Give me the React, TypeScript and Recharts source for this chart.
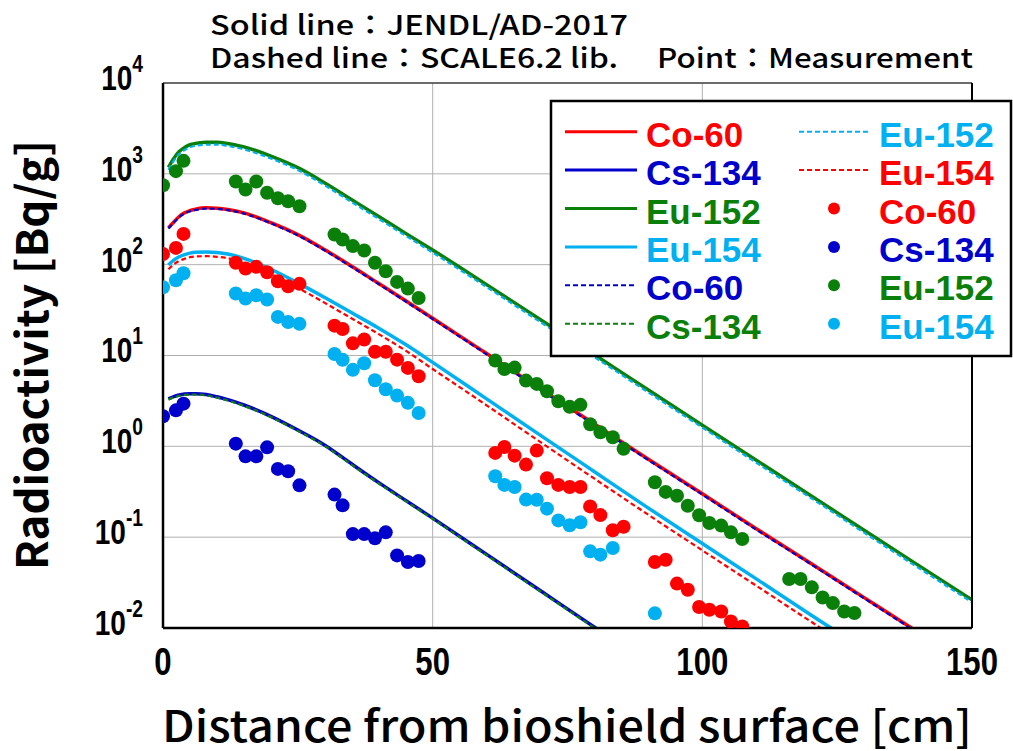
import React from "react";
import {
  ComposedChart,
  Line,
  Scatter,
  XAxis,
  YAxis,
  CartesianGrid,
} from "recharts";

// calculated curves (distance in cm)
const curveX = [1, 2, 3, 4, 5, 6, 8, 10, 12, 15, 20, 25, 30, 35, 40, 45, 50, 60, 70, 80, 90, 100, 110, 120, 130, 140, 150];

const jendlCo60 = [254, 295, 339, 372, 394, 407, 422, 418, 405, 372, 290, 214, 146, 96, 62, 40, 25.7, 10.5, 4.27, 1.76, 0.72, 0.3, 0.124, 0.052, 0.0216, 0.009, 0.0038];
const jendlCs134 = [3.33, 3.53, 3.67, 3.76, 3.8, 3.8, 3.72, 3.51, 3.27, 2.85, 2.14, 1.51, 1.03, 0.638, 0.398, 0.254, 0.162, 0.0646, 0.0257, 0.0102, 0.0041, 0.0016, 0.00065, 0.00026, 0.0001, 0.00004, 0.000016];
const jendlEu152 = [1175, 1480, 1760, 1950, 2090, 2160, 2220, 2230, 2160, 1980, 1570, 1170, 794, 519, 339, 221, 145, 60.3, 24.8, 10.2, 4.17, 1.71, 0.703, 0.29, 0.119, 0.0492, 0.0204];
const jendlEu154 = [99, 112, 122, 129, 134, 137, 138, 136, 131, 117.5, 89, 63, 43.4, 29.5, 20, 13.2, 8.4, 3.33, 1.32, 0.525, 0.209, 0.085, 0.0347, 0.0141, 0.0058, 0.0023, 0.00095];

const scaleCo60 = [250, 290, 333, 366, 388, 400, 415, 411, 398, 365, 285, 210, 143, 94, 61, 39.3, 25.2, 10.3, 4.18, 1.72, 0.705, 0.294, 0.121, 0.051, 0.0212, 0.0088, 0.0037];
const scaleCs134 = [3.27, 3.46, 3.6, 3.68, 3.72, 3.72, 3.65, 3.44, 3.2, 2.79, 2.1, 1.48, 1.01, 0.625, 0.39, 0.249, 0.159, 0.0633, 0.0252, 0.01, 0.004, 0.00157, 0.00064, 0.00025, 0.0001, 0.00004, 0.000016];
const scaleEu152 = [1105, 1390, 1650, 1830, 1960, 2030, 2090, 2100, 2030, 1860, 1475, 1100, 746, 487, 319, 208, 136, 56.7, 23.3, 9.6, 3.92, 1.61, 0.66, 0.273, 0.112, 0.0462, 0.0192];
const scaleEu154 = [89, 101, 110, 116, 121, 123, 124, 122, 118, 105, 79, 55.5, 38, 25.5, 17.2, 11.3, 7.1, 2.83, 1.11, 0.44, 0.176, 0.0715, 0.0292, 0.0119, 0.0049, 0.002, 0.0008];

// measured samples
const measX = [0, 2.4, 3.8, 13.5, 15.3, 17.3, 19.3, 21.3, 23.2, 25.3, 31.8, 33.3, 35.2, 37.3, 39.3, 41.3, 43.4, 45.4, 47.4, 61.6, 63.3, 65.2, 67.3, 69.3, 71.2, 73.3, 75.4, 77.4, 79.2, 81.1, 83.4, 85.4, 91.2, 93.2, 95.3, 97.3, 99.4, 101.3, 103.5, 105.3, 107.4, 116.1, 118.2, 120.3, 122.3, 124.2, 126.3, 128.2];

const measCo60 = [131, 153, 218, 105, 90.6, 94.6, 82.4, 65.6, 57.8, 61.5, 21.3, 19.6, 13.6, 15.0, 11.0, 11.0, 9.0, 7.3, 5.9, 0.846, 0.984, 0.79, 0.629, 0.897, 0.445, 0.376, 0.357, 0.357, 0.218, 0.175, 0.119, 0.13, 0.0533, 0.0565, 0.0308, 0.0264, 0.017, 0.0159, 0.0152, 0.0118, 0.0104, null, null, null, null, null, null, null];
const measCs134 = [2.14, 2.49, 2.95, 1.07, 0.776, 0.776, 0.975, 0.564, 0.531, 0.372, 0.294, 0.224, 0.108, 0.108, 0.097, 0.113, 0.063, 0.0533, 0.0547, null, null, null, null, null, null, null, null, null, null, null, null, null, null, null, null, null, null, null, null, null, null, null, null, null, null, null, null, null];
const measEu152 = [750, 1070, 1390, 822, 672, 822, 618, 539, 499, 439, 215, 189, 160, 143, 105, 84.6, 64.6, 54.5, 43, 8.79, 7.1, 7.36, 5.29, 4.87, 4.04, 3.13, 2.72, 2.86, 1.75, 1.43, 1.26, 0.94, 0.402, 0.315, 0.286, 0.222, 0.174, 0.143, 0.134, 0.113, 0.0955, 0.0346, 0.0346, 0.028, 0.0217, 0.0188, 0.0152, 0.0146];
const measEu154 = [56.4, 67.3, 80.4, 48.1, 42.4, 46, 41.3, 26.6, 23.4, 22.3, 10.4, 8.95, 6.95, 8.2, 5.33, 4.25, 3.62, 3.01, 2.33, 0.468, 0.376, 0.357, 0.259, 0.258, 0.206, 0.153, 0.135, 0.146, 0.0698, 0.0642, 0.076, null, 0.0145, null, null, null, null, null, null, null, null, null, null, null, null, null, null, null];

const xMajor = [0, 50, 100, 150];
const yMajor = [0.01, 0.1, 1, 10, 100, 1000, 10000];

const RED = "#FF0000";
const BLUE = "#0000CC";
const GREEN = "#0A7F0A";
const CYAN = "#00B0F0";

const xMinor: number[] = [];
for (let v = 0; v <= 150; v += 5) xMinor.push(v);
const yMinor: number[] = [];
for (let e = -2; e <= 3; e++) {
  for (let m = 1; m <= 9; m++) yMinor.push(Number((m * Math.pow(10, e)).toPrecision(3)));
}
yMinor.push(10000);

const toLine = (vals: number[]) => curveX.map((x, i) => ({ x, y: vals[i] }));
const toPoints = (vals: (number | null)[]) =>
  measX.map((x, i) => ({ x, y: vals[i] })).filter((d) => d.y != null);

const solidLines = [
  { name: "Co-60", values: jendlCo60, color: RED },
  { name: "Cs-134", values: jendlCs134, color: BLUE },
  { name: "Eu-152", values: jendlEu152, color: GREEN },
  { name: "Eu-154", values: jendlEu154, color: CYAN },
];
const dashedLines = [
  { name: "Eu-152", values: scaleEu152, color: CYAN },
  { name: "Eu-154", values: scaleEu154, color: RED },
  { name: "Co-60", values: scaleCo60, color: BLUE },
  { name: "Cs-134", values: scaleCs134, color: GREEN },
];
const pointSets = [
  { name: "Co-60", values: measCo60, color: RED },
  { name: "Cs-134", values: measCs134, color: BLUE },
  { name: "Eu-152", values: measEu152, color: GREEN },
  { name: "Eu-154", values: measEu154, color: CYAN },
];

const SANS = "'Liberation Sans', Arial, sans-serif";
const GOTHIC = "'Noto Sans CJK JP', 'Noto Sans', sans-serif";

// axes need a size above 0 to be drawn at all
const THIN = 0.01;

// tick labels use a condensed bold face, squeezed horizontally
const YTick = (props: any) => {
  const { y, payload } = props;
  const exp = Math.round(Math.log10(payload.value));
  return (
    <text
      transform={`translate(143,${y + 7}) scale(0.8,1)`}
      x={0}
      y={0}
      textAnchor="end"
      fontFamily={SANS}
      fontWeight={700}
      fontSize={35}
      fill="#000"
    >
      <tspan>10</tspan>
      <tspan dy={-18} fontSize={24}>{exp}</tspan>
    </text>
  );
};

const XTick = (props: any) => {
  const { x, payload } = props;
  return (
    <text
      transform={`translate(${x},675) scale(0.82,1)`}
      x={0}
      y={0}
      textAnchor="middle"
      fontFamily={SANS}
      fontWeight={700}
      fontSize={38}
      fill="#000"
    >
      {payload.value}
    </text>
  );
};

const legendRows = [
  { col: 0, row: 0, kind: "solid", ...solidLines[0] },
  { col: 0, row: 1, kind: "solid", ...solidLines[1] },
  { col: 0, row: 2, kind: "solid", ...solidLines[2] },
  { col: 0, row: 3, kind: "solid", ...solidLines[3] },
  { col: 0, row: 4, kind: "dash", ...dashedLines[2] },
  { col: 0, row: 5, kind: "dash", ...dashedLines[3] },
  { col: 1, row: 0, kind: "dash", ...dashedLines[0] },
  { col: 1, row: 1, kind: "dash", ...dashedLines[1] },
  { col: 1, row: 2, kind: "dot", ...pointSets[0] },
  { col: 1, row: 3, kind: "dot", ...pointSets[1] },
  { col: 1, row: 4, kind: "dot", ...pointSets[2] },
  { col: 1, row: 5, kind: "dot", ...pointSets[3] },
];

const Overlay = () => {
  const cols = [
    { x1: 565, x2: 637, tx: 646 },
    { x1: 799, x2: 869, tx: 879 },
  ];
  return (
    <svg width={1013} height={751} style={{ position: "absolute", left: 0, top: 0, pointerEvents: "none" }}>
      <text x={210} y={35} fontFamily={GOTHIC} fontWeight={500} fontSize={27} fill="#000" textLength={418} lengthAdjust="spacingAndGlyphs">
        Solid line：JENDL/AD-2017
      </text>
      <text x={210} y={68} fontFamily={GOTHIC} fontWeight={500} fontSize={27} fill="#000" textLength={408} lengthAdjust="spacingAndGlyphs">
        Dashed line：SCALE6.2 lib.
      </text>
      <text x={657} y={68} fontFamily={GOTHIC} fontWeight={500} fontSize={27} fill="#000" textLength={316} lengthAdjust="spacingAndGlyphs">
        Point：Measurement
      </text>
      <text x={162} y={742} fontFamily={GOTHIC} fontWeight={500} fontSize={43} fill="#000" textLength={810} lengthAdjust="spacingAndGlyphs">
        Distance from bioshield surface [cm]
      </text>
      <text
        transform="translate(48,355) rotate(-90)"
        x={0}
        y={0}
        textAnchor="middle"
        fontFamily={GOTHIC}
        fontWeight={700}
        fontSize={43}
        fill="#000"
        textLength={430}
        lengthAdjust="spacingAndGlyphs"
      >
        Radioactivity [Bq/g]
      </text>
      <rect x={551} y={101} width={460} height={255} fill="#fff" stroke="#000" strokeWidth={2.5} />
      {legendRows.map((r) => {
        const c = cols[r.col];
        const cy = 131.7 + 38.4 * r.row;
        return (
          <g key={`${r.col}-${r.row}`}>
            {r.kind === "solid" && <line x1={c.x1} x2={c.x2} y1={cy} y2={cy} stroke={r.color} strokeWidth={3} />}
            {r.kind === "dash" && (
              <line x1={c.x1} x2={c.x2} y1={cy} y2={cy} stroke={r.color} strokeWidth={2} strokeDasharray="5 3" />
            )}
            {r.kind === "dot" && <circle cx={834} cy={cy} r={6} fill={r.color} />}
            <text x={c.tx} y={cy + 15} fontFamily={SANS} fontWeight={700} fontSize={35} fill={r.color}>
              {r.name}
            </text>
          </g>
        );
      })}
    </svg>
  );
};

export default function App() {
  return (
    <div style={{ position: "absolute", left: 0, top: 0, width: 1013, height: 751, background: "#fff" }}>
      <ComposedChart width={1013} height={751} margin={{ top: 83, right: 41, bottom: 123, left: 163 }}>
        <CartesianGrid stroke="#b0b0b0" strokeWidth={1} />
        {solidLines.map((s) => (
          <Line
            key={`j-${s.name}`}
            data={toLine(s.values)}
            dataKey="y"
            type="monotone"
            dot={false}
            stroke={s.color}
            strokeWidth={3.5}
            isAnimationActive={false}
          />
        ))}
        {dashedLines.map((s) => (
          <Line
            key={`s-${s.name}`}
            data={toLine(s.values)}
            dataKey="y"
            type="monotone"
            dot={false}
            stroke={s.color}
            strokeWidth={2.2}
            strokeDasharray="5 3"
            isAnimationActive={false}
          />
        ))}
        {pointSets.map((s) => (
          <Scatter
            key={`m-${s.name}`}
            data={toPoints(s.values)}
            dataKey="y"
            fill={s.color}
            isAnimationActive={false}
            shape={(p: any) => <circle cx={p.cx} cy={p.cy} r={7} fill={s.color} />}
          />
        ))}
        <XAxis
          dataKey="x"
          type="number"
          domain={[0, 150]}
          allowDataOverflow
          ticks={xMajor}
          interval={0}
          height={THIN}
          tickSize={0}
          tickLine={false}
          tick={XTick}
          axisLine={{ stroke: "#000", strokeWidth: 2.5 }}
        />
        <XAxis
          xAxisId="minorB"
          type="number"
          domain={[0, 150]}
          ticks={xMinor}
          interval={0}
          height={THIN}
          mirror
          tick={false}
          tickSize={5}
          tickLine={{ stroke: "#000", strokeWidth: 1 }}
          axisLine={false}
        />
        <XAxis
          xAxisId="top"
          orientation="top"
          type="number"
          domain={[0, 150]}
          ticks={xMinor}
          interval={0}
          height={THIN}
          mirror
          tick={false}
          tickSize={5}
          tickLine={{ stroke: "#000", strokeWidth: 1 }}
          axisLine={{ stroke: "#000", strokeWidth: 1.2 }}
        />
        <YAxis
          dataKey="y"
          type="number"
          scale="log"
          domain={[0.01, 10000]}
          allowDataOverflow
          ticks={yMajor}
          interval={0}
          width={THIN}
          tickSize={0}
          tickLine={false}
          tick={YTick}
          axisLine={{ stroke: "#000", strokeWidth: 2.5 }}
        />
        <YAxis
          yAxisId="minorL"
          type="number"
          scale="log"
          domain={[0.01, 10000]}
          allowDataOverflow
          ticks={yMinor}
          interval={0}
          width={THIN}
          mirror
          tick={false}
          tickSize={7}
          tickLine={{ stroke: "#333", strokeWidth: 1 }}
          axisLine={false}
        />
        <YAxis
          yAxisId="right"
          orientation="right"
          type="number"
          scale="log"
          domain={[0.01, 10000]}
          allowDataOverflow
          ticks={yMinor}
          interval={0}
          width={THIN}
          mirror
          tick={false}
          tickSize={7}
          tickLine={{ stroke: "#333", strokeWidth: 1 }}
          axisLine={{ stroke: "#000", strokeWidth: 2 }}
        />
      </ComposedChart>
      <Overlay />
    </div>
  );
}
